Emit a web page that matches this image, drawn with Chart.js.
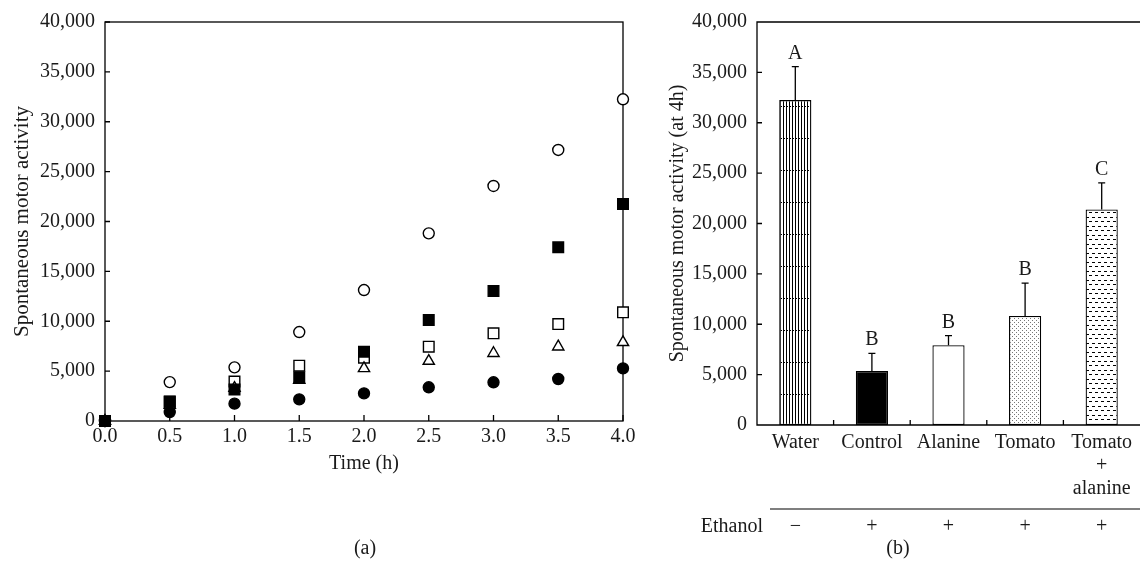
<!DOCTYPE html>
<html>
<head>
<meta charset="utf-8">
<script src="https://cdn.jsdelivr.net/npm/chart.js@4.4.1/dist/chart.umd.min.js"></script>
<style>
    body { margin: 0; background: #fff; width: 1140px; height: 565px; overflow: hidden; position: relative; }
    #chartA { position: absolute; left: 0; top: 0; }
    #chartB { position: absolute; left: 660px; top: 0; }
</style>
</head>
<body>
<canvas id="chartA" width="660" height="565"></canvas>
<canvas id="chartB" width="480" height="565"></canvas>
<script>
// --- DATOS (a): actividad en el tiempo ---
const times = [0, 0.5, 1, 1.5, 2, 2.5, 3, 3.5, 4];
const waterPts   = [0, 3900, 5380, 8920, 13130, 18810, 23560, 27170, 32250];   // circulo abierto
const tomAlaPts  = [0, 1940, 3170, 4380, 6950, 10130, 13030, 17410, 21750];    // cuadrado lleno
const tomatoPts  = [0, 1950, 3950, 5550, 6350, 7450, 8790, 9720, 10900];       // cuadrado abierto
const alaninePts = [0, 1600, 3300, 4110, 5280, 6010, 6790, 7450, 7890];        // triangulo abierto
const controlPts = [0, 900, 1740, 2170, 2770, 3380, 3880, 4210, 5280];         // circulo lleno

// --- DATOS (b): a las 4 h ---
const groups = ['Water', 'Control', 'Alanine', 'Tomato', ['Tomato', '+', 'alanine']];
const means = [32250, 5350, 7920, 10830, 21390];
const errs = [3330, 1750, 960, 3260, 2640];
const letters = ['A', 'B', 'B', 'B', 'C'];
const ethanol = ['\u2212', '+', '+', '+', '+'];

const FONT = 'Liberation Serif';
const INK = '#1a1a1a';
Chart.defaults.font.family = FONT;
Chart.defaults.font.size = 20;
Chart.defaults.color = INK;

const fmt = v => Number(v).toLocaleString('en-US');

// --- PATRONES DE RELLENO ---
function makePattern(w, h, draw) {
    const c = document.createElement('canvas');
    c.width = w; c.height = h;
    const g = c.getContext('2d');
    g.fillStyle = '#fff'; g.fillRect(0, 0, w, h);
    draw(g);
    return g.createPattern(c, 'repeat');
}
const patWater = makePattern(3, 32, g => {
    g.fillStyle = '#000';
    g.fillRect(0, 0, 1, 32);
    g.fillRect(1, 10, 1, 1);
});
const patTomato = makePattern(4, 4, g => {
    g.fillStyle = '#777';
    g.fillRect(0, 0, 1, 1);
    g.fillRect(2, 2, 1, 1);
});
const patTomAla = makePattern(6, 9, g => {
    g.fillStyle = '#000';
    g.fillRect(0, 1, 3, 1);
    g.fillRect(3, 5, 3, 1);
});

// --- GRAFICO (a) ---
const frameA = {
    id: 'frameA',
    beforeDatasetsDraw(chart) {
        const { ctx, chartArea: a, scales: { x, y } } = chart;
        ctx.save();
        ctx.strokeStyle = '#000';
        ctx.lineWidth = 1.3;
        ctx.strokeRect(a.left, a.top, a.right - a.left, a.bottom - a.top);
        ctx.beginPath();
        x.ticks.forEach(t => {
            const px = x.getPixelForValue(t.value);
            ctx.moveTo(px, a.bottom); ctx.lineTo(px, a.bottom - 6);
        });
        y.ticks.forEach(t => {
            const py = y.getPixelForValue(t.value);
            ctx.moveTo(a.left, py); ctx.lineTo(a.left + 5, py);
        });
        ctx.stroke();
        ctx.restore();
    },
    afterDraw(chart) {
        const { ctx } = chart;
        ctx.save();
        ctx.font = `20px "${FONT}"`;
        ctx.fillStyle = INK;
        ctx.textAlign = 'center';
        ctx.textBaseline = 'middle';
        ctx.fillText('(a)', 365, 549);
        ctx.restore();
    }
};

function series(label, data, style, fill, radius, order) {
    return {
        label,
        data: times.map((t, i) => ({ x: t, y: data[i] })),
        pointStyle: style,
        pointRadius: radius,
        pointHoverRadius: radius,
        pointBackgroundColor: fill,
        pointBorderColor: '#000',
        pointBorderWidth: 1.4,
        showLine: false,
        clip: false,
        order
    };
}

new Chart(document.getElementById('chartA'), {
    type: 'scatter',
    data: {
        datasets: [
            series('Water', waterPts, 'circle', '#fff', 5.5, 4),
            series('Tomato', tomatoPts, 'rect', '#fff', 7.5, 3),
            series('Alanine', alaninePts, 'triangle', '#fff', 6.5, 2),
            series('Control', controlPts, 'circle', '#000', 5.5, 1),
            series('Tomato + alanine', tomAlaPts, 'rect', '#000', 7.5, 0)
        ]
    },
    options: {
        responsive: false,
        animation: false,
        layout: { padding: { top: 22, right: 37, left: 0, bottom: 0 } },
        plugins: { legend: { display: false }, tooltip: { enabled: false } },
        scales: {
            x: {
                type: 'linear', min: 0, max: 4,
                ticks: { stepSize: 0.5, padding: 4, callback: v => Number(v).toFixed(1) },
                grid: { display: false, drawTicks: false },
                border: { display: false },
                title: { display: true, text: 'Time (h)', padding: { top: 0, bottom: 89 } },
                afterFit: s => { s.height = 144; }
            },
            y: {
                min: 0, max: 40000,
                ticks: { stepSize: 5000, padding: 10, callback: fmt },
                grid: { display: false, drawTicks: false },
                border: { display: false },
                title: { display: true, text: 'Spontaneous motor activity', font: { size: 21 }, padding: { top: 10, bottom: 0 } },
                afterFit: s => { s.width = 105; }
            }
        }
    },
    plugins: [frameA]
});

// --- GRAFICO (b) ---
const frameB = {
    id: 'frameB',
    beforeDatasetsDraw(chart) {
        const { ctx, chartArea: a, scales: { x, y } } = chart;
        ctx.save();
        ctx.strokeStyle = '#000';
        ctx.lineWidth = 1.3;
        ctx.beginPath();
        ctx.moveTo(chart.width, a.top); ctx.lineTo(a.left, a.top);
        ctx.lineTo(a.left, a.bottom); ctx.lineTo(chart.width, a.bottom);
        for (let i = 0; i < groups.length - 1; i++) {
            const px = (x.getPixelForValue(i) + x.getPixelForValue(i + 1)) / 2;
            ctx.moveTo(px, a.bottom); ctx.lineTo(px, a.bottom - 5);
        }
        y.ticks.forEach(t => {
            const py = y.getPixelForValue(t.value);
            ctx.moveTo(a.left, py); ctx.lineTo(a.left + 5, py);
        });
        ctx.stroke();
        ctx.restore();
    },
    afterDatasetsDraw(chart) {
        const { ctx, scales: { x, y } } = chart;
        ctx.save();
        ctx.strokeStyle = '#000';
        ctx.lineWidth = 1.3;
        ctx.fillStyle = INK;
        ctx.font = `20px "${FONT}"`;
        ctx.textAlign = 'center';
        ctx.textBaseline = 'alphabetic';
        means.forEach((m, i) => {
            const px = x.getPixelForValue(i);
            const top = y.getPixelForValue(m + errs[i]);
            ctx.beginPath();
            ctx.moveTo(px, y.getPixelForValue(m)); ctx.lineTo(px, top);
            ctx.moveTo(px - 3.5, top); ctx.lineTo(px + 3.5, top);
            ctx.stroke();
            ctx.fillText(letters[i], px, top - 8);
        });
        ctx.restore();
    },
    afterDraw(chart) {
        const { ctx, scales: { x } } = chart;
        ctx.save();
        ctx.strokeStyle = '#000';
        ctx.lineWidth = 1.2;
        ctx.beginPath();
        ctx.moveTo(110, 509); ctx.lineTo(chart.width, 509);
        ctx.stroke();
        ctx.font = `20px "${FONT}"`;
        ctx.fillStyle = INK;
        ctx.textBaseline = 'middle';
        ctx.textAlign = 'right';
        ctx.fillText('Ethanol', 103, 527);
        ctx.textAlign = 'center';
        ethanol.forEach((s, i) => ctx.fillText(s, x.getPixelForValue(i), 527));
        ctx.fillText('(b)', 238, 549);
        ctx.restore();
    }
};

new Chart(document.getElementById('chartB'), {
    type: 'bar',
    data: {
        labels: groups,
        datasets: [{
            data: means,
            backgroundColor: [patWater, '#000', '#fff', patTomato, patTomAla],
            borderColor: '#000',
            borderWidth: 1.3,
            borderSkipped: false,
            barPercentage: 0.42,
            categoryPercentage: 1
        }]
    },
    options: {
        responsive: false,
        animation: false,
        layout: { padding: { top: 21, right: 0, left: 0, bottom: 0 } },
        plugins: { legend: { display: false }, tooltip: { enabled: false } },
        scales: {
            x: {
                ticks: { padding: 6, maxRotation: 0, autoSkip: false, font: { lineHeight: 1.15 } },
                grid: { display: false, drawTicks: false },
                border: { display: false },
                afterFit: s => { s.height = 140; }
            },
            y: {
                min: 0, max: 40000,
                ticks: { stepSize: 5000, padding: 10, callback: fmt },
                grid: { display: false, drawTicks: false },
                border: { display: false },
                title: { display: true, text: 'Spontaneous motor activity (at 4h)', padding: { top: 6, bottom: 0 } },
                afterFit: s => { s.width = 97; }
            }
        }
    },
    plugins: [frameB]
});
</script>
</body>
</html>
